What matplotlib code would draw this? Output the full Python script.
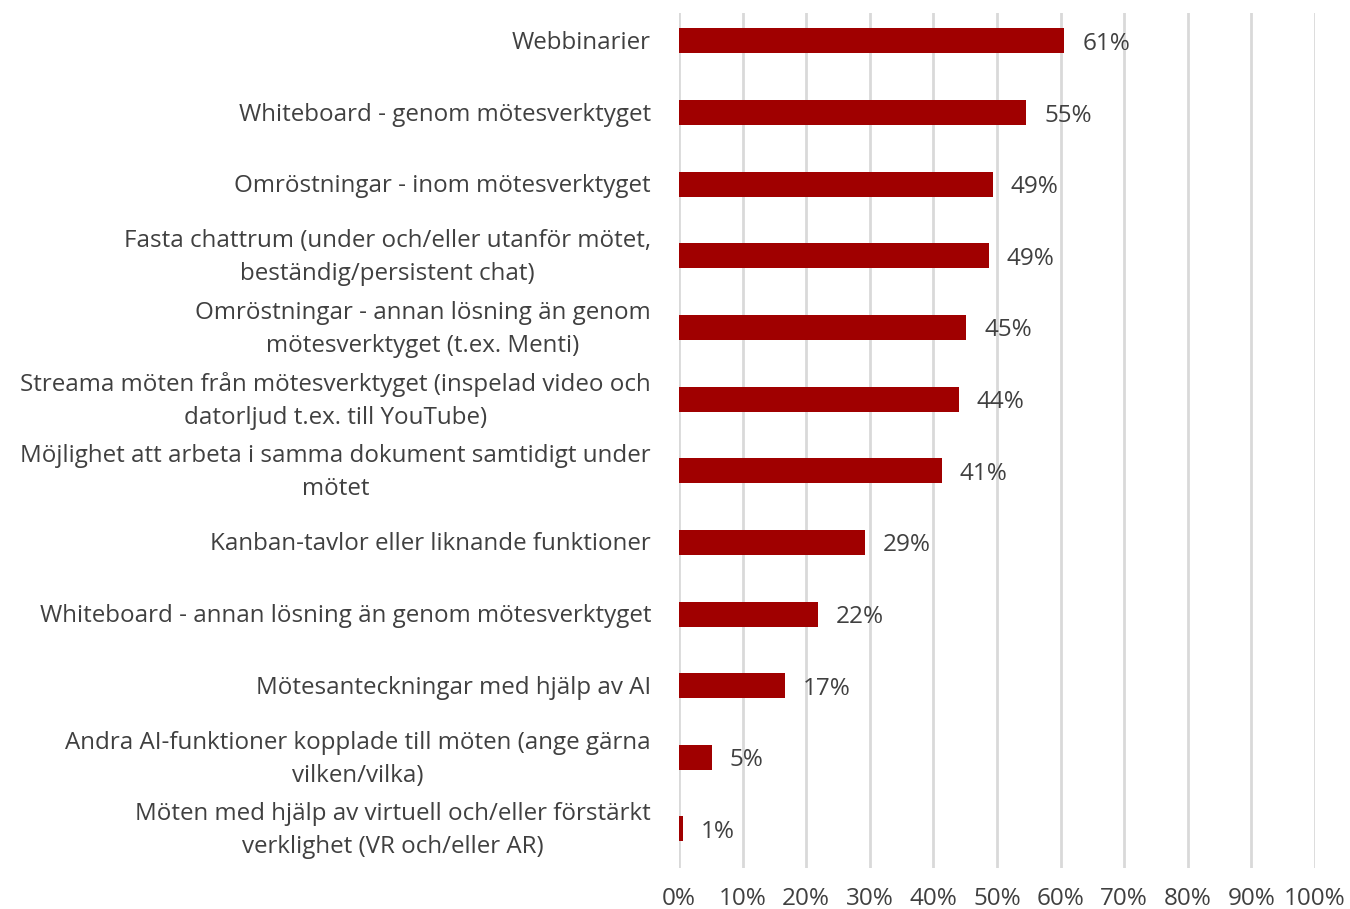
import matplotlib
matplotlib.use("Agg")
import matplotlib.pyplot as plt
from matplotlib.ticker import FuncFormatter
from matplotlib.transforms import blended_transform_factory, ScaledTranslation

categories = [
    "Webbinarier",
    "Whiteboard - genom mötesverktyget",
    "Omröstningar - inom mötesverktyget",
    "Fasta chattrum (under och/eller utanför mötet,\nbeständig/persistent chat)",
    "Omröstningar - annan lösning än genom\nmötesverktyget (t.ex. Menti)",
    "Streama möten från mötesverktyget (inspelad video och\ndatorljud t.ex. till YouTube)",
    "Möjlighet att arbeta i samma dokument samtidigt under\nmötet",
    "Kanban-tavlor eller liknande funktioner",
    "Whiteboard - annan lösning än genom mötesverktyget",
    "Mötesanteckningar med hjälp av AI",
    "Andra AI-funktioner kopplade till möten (ange gärna\nvilken/vilka)",
    "Möten med hjälp av virtuell och/eller förstärkt\nverklighet (VR och/eller AR)",
]
values = [60.6, 54.6, 49.3, 48.7, 45.2, 44.0, 41.3, 29.2, 21.8, 16.6, 5.2, 0.6]
labels = ["61%", "55%", "49%", "49%", "45%", "44%", "41%", "29%", "22%", "17%", "5%", "1%"]
xticks = [0, 10, 20, 30, 40, 50, 60, 70, 80, 90, 100]

plt.rcParams['font.family'] = ['Open Sans', 'DejaVu Sans']
text_color = "#404040"
bar_color = "#A00000"
grid_color = "#D9D9D9"

fig = plt.figure(figsize=(13.5, 9.09), dpi=100)
ax = fig.add_axes([679/1350, 1-868/909, (1315-679)/1350, (868-13)/909])

ypos = list(range(len(categories)))
ax.barh(ypos, values, height=0.35, color=bar_color, zorder=3)
for y, v, lab in zip(ypos, values, labels):
    ax.text(v + 2.8, y, lab, va='center_baseline', ha='left', fontsize=17.5, color=text_color)

ax.set_xlim(0, 100)
ax.set_ylim(11.545, -0.39)
ax.set_xticks(xticks)
ax.xaxis.set_major_formatter(FuncFormatter(lambda x, p: f"{int(x)}%"))
ax.set_yticks(ypos)
ax.set_yticklabels([])
base = blended_transform_factory(ax.transAxes, ax.transData)
for y, cat in zip(ypos, categories):
    dy = -0.02
    tr = base + ScaledTranslation(-0.28, dy, fig.dpi_scale_trans)
    ax.text(0, y, cat, transform=tr, ha='right', va='center', multialignment='center',
            linespacing=1.5, fontsize=17.4, color=text_color)
ax.tick_params(axis='y', length=0)
ax.tick_params(axis='x', length=0, pad=14, labelsize=17.5, labelcolor=text_color)
for s in ax.spines.values():
    s.set_visible(False)
ax.grid(axis='x', color=grid_color, linewidth=2, zorder=0)
ax.set_axisbelow(True)

fig.savefig("out.png", dpi=100)
